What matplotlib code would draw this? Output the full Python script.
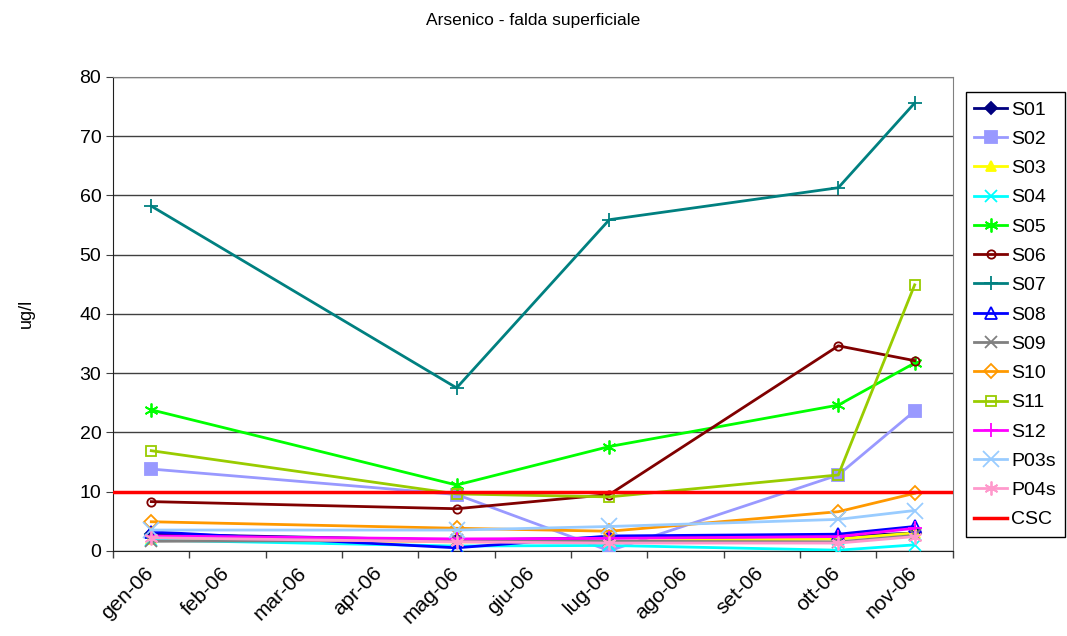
import matplotlib
matplotlib.use('Agg')
import matplotlib.pyplot as plt
import numpy as np

plt.rcParams['font.family'] = ['Liberation Sans', 'DejaVu Sans']

# month labels on the x axis and month index of each sampling
months = ['gen-06', 'feb-06', 'mar-06', 'apr-06', 'mag-06', 'giu-06',
          'lug-06', 'ago-06', 'set-06', 'ott-06', 'nov-06']
sample_months = [0, 4, 6, 9, 10]

# arsenic values (ug/l) per well
S01 = [2.8, 1.8, 2.2, 2.4, 3.0]
S02 = [13.8, 9.5, 0.0, 12.8, 23.6]
S03 = [2.0, 1.5, 1.6, 2.0, 3.0]
S04 = [1.8, 0.8, 0.9, 0.1, 1.0]
S05 = [23.8, 11.1, 17.6, 24.6, 31.7]
S06 = [8.3, 7.1, 9.5, 34.6, 32.1]
S07 = [58.2, 27.5, 55.9, 61.3, 75.6]
S08 = [3.2, 0.5, 2.5, 2.8, 4.1]
S09 = [1.6, 1.8, 1.6, 1.5, 2.6]
S10 = [4.9, 3.8, 3.3, 6.6, 9.7]
S11 = [16.9, 9.6, 9.1, 12.8, 44.9]
S12 = [2.5, 2.0, 2.1, 2.4, 3.8]
P03s = [3.5, 3.5, 4.1, 5.3, 6.8]
P04s = [2.2, 1.5, 1.3, 1.3, 2.4]
CSC = 10

# name, values, colour, marker, filled, marker size
series = [
    ('S01', S01, '#000080', 'D', True, 6),
    ('S02', S02, '#9999FF', 's', True, 8),
    ('S03', S03, '#FFFF00', '^', True, 7),
    ('S04', S04, '#00FFFF', 'x', True, 8),
    ('S05', S05, '#00FF00', (6, 2, 0), True, 10),
    ('S06', S06, '#800000', 'o', False, 6),
    ('S07', S07, '#008080', '+', True, 10),
    ('S08', S08, '#0000FF', '^', False, 8),
    ('S09', S09, '#808080', 'x', True, 8),
    ('S10', S10, '#FF9900', 'D', False, 7),
    ('S11', S11, '#99CC00', 's', False, 7),
    ('S12', S12, '#FF00FF', '+', True, 10),
    ('P03s', P03s, '#99CCFF', 'x', True, 11),
    ('P04s', P04s, '#FF99CC', (6, 2, 0), True, 10),
]

fig = plt.figure(figsize=(10.67, 6.36), dpi=100)
ax = fig.add_axes([0.106, 0.134, 0.787, 0.745])

x = np.array(sample_months) + 0.5
for name, vals, col, mk, filled, ms in series:
    ax.plot(x, vals, color=col, lw=2, marker=mk, markersize=ms,
            markerfacecolor=col if filled else 'none', markeredgecolor=col,
            markeredgewidth=1.3, label=name, zorder=3)

ax.plot([0, len(months)], [CSC, CSC], color='#FF0000', lw=2.5, label='CSC', zorder=4)

ax.set_xlim(0, len(months))
ax.set_ylim(0, 80)
ax.set_yticks(np.arange(0, 81, 10))
ax.yaxis.grid(True, color='#404040', lw=1)
ax.set_axisbelow(True)

# ticks at month boundaries, rotated labels near the month centres
ax.set_xticks(np.arange(0, len(months) + 1))
ax.set_xticklabels([])
ax.set_xticks(np.arange(len(months)) + 0.4, minor=True)
ax.set_xticklabels(months, minor=True, rotation=45, ha='right',
                   rotation_mode='anchor', fontsize=15)
ax.tick_params(axis='x', which='minor', length=0, pad=9)
ax.tick_params(axis='x', which='major', direction='out', length=5, width=1, color='#404040')
ax.tick_params(axis='y', direction='out', length=5, labelsize=14, color='#404040')

for s in ['top', 'right']:
    ax.spines[s].set_color('#808080')
for s in ['left', 'bottom']:
    ax.spines[s].set_color('#202020')

ax.set_ylabel('ug/l', fontsize=13, labelpad=32)
fig.suptitle('Arsenico - falda superficiale', fontsize=12.5, y=0.98)

leg = fig.legend(loc='upper left', bbox_to_anchor=(0.905, 0.855), fontsize=14,
                 frameon=True, fancybox=False, edgecolor='black', framealpha=1,
                 handlelength=1.7, handletextpad=0.2, borderpad=0.45,
                 labelspacing=0.6, borderaxespad=0)
leg.get_frame().set_linewidth(1)

fig.savefig('out.png', dpi=100)
